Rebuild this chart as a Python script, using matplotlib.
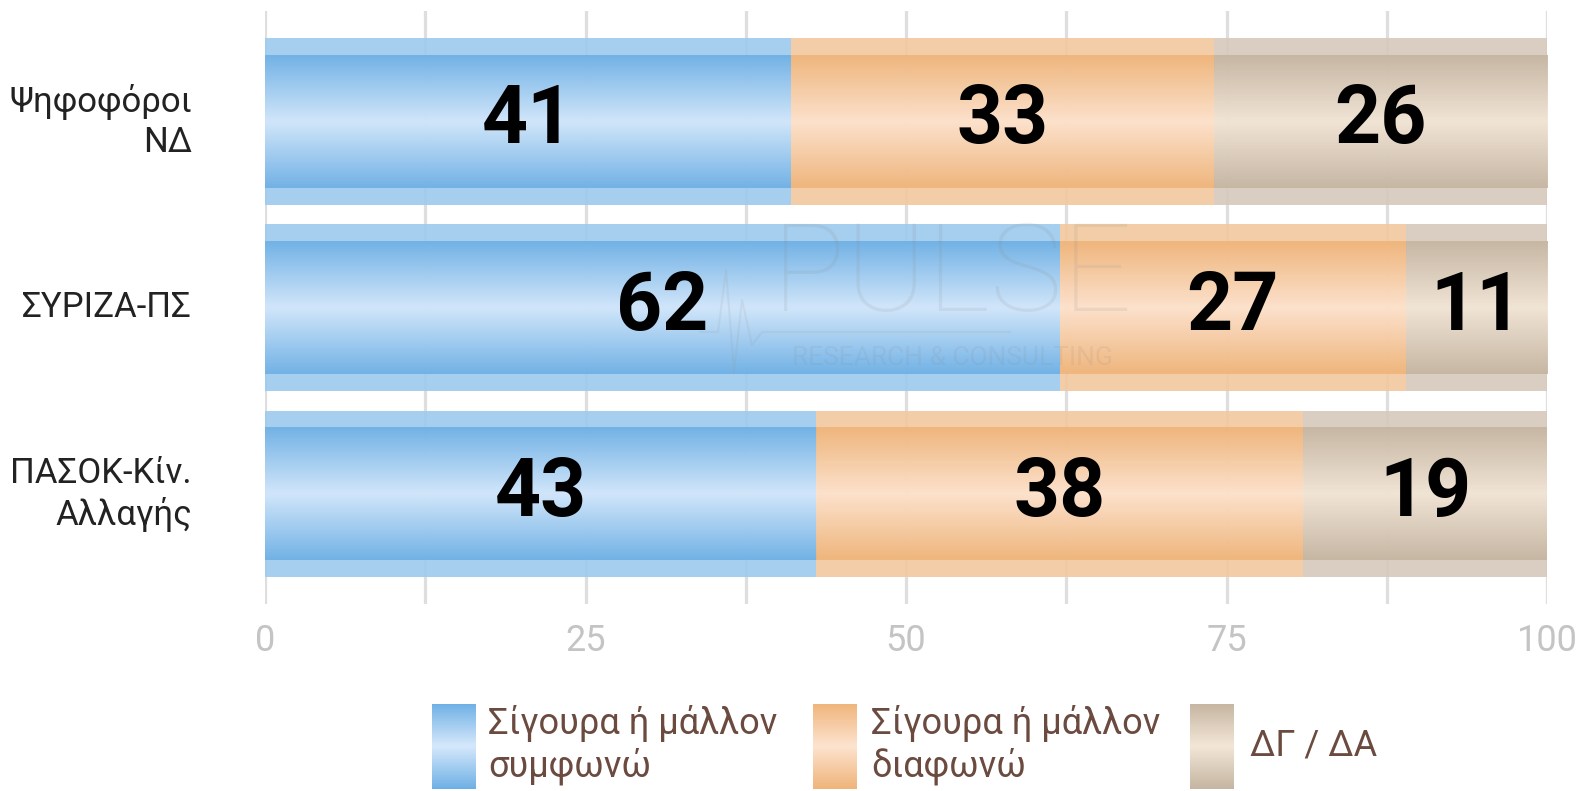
import numpy as np
import matplotlib
matplotlib.use("Agg")
import matplotlib.pyplot as plt
from matplotlib.colors import LinearSegmentedColormap
from matplotlib.ticker import MultipleLocator

# Daten
categories = ["Ψηφοφόροι\nΝΔ", "ΣΥΡΙΖΑ-ΠΣ", "ΠΑΣΟΚ-Κίν.\nΑλλαγής"]
series_names = ["Σίγουρα ή μάλλον\nσυμφωνώ", "Σίγουρα ή μάλλον\nδιαφωνώ", "ΔΓ / ΔΑ"]
agree = [41, 62, 43]
disagree = [33, 27, 38]
dont_know = [26, 11, 19]
x_ticks = [0, 25, 50, 75, 100]

# Farben: (Rand, dunkle Kante, helle Mitte)
colors = [
    ("#9ecaee", "#6eb0e5", "#d5e8fb"),
    ("#f2c9a0", "#efb47a", "#fde3cf"),
    ("#d6cabc", "#c5b5a1", "#f3e6d7"),
]

plt.rcParams['font.family'] = ['Liberation Sans Narrow', 'Roboto', 'DejaVu Sans']

fig = plt.figure(figsize=(15.81, 7.91), dpi=100)
ax = fig.add_axes([265 / 1581, 1 - 604 / 791, (1547 - 265) / 1581, 593 / 791])

y = np.arange(len(categories))
bar_h = 0.893
band = 0.091


def gradient_cmap(edge, center):
    return LinearSegmentedColormap.from_list("g", [center, edge])


grad = np.abs(np.linspace(-1, 1, 200)).reshape(-1, 1)

left = np.zeros(len(categories))
for values, (band_col, edge_col, center_col) in zip([agree, disagree, dont_know], colors):
    bars = ax.barh(y, values, left=left, height=bar_h, color=band_col, alpha=0.92,
                   linewidth=0, zorder=2)
    cmap = gradient_cmap(edge_col, center_col)
    for rect, v in zip(bars, values):
        x0 = rect.get_x()
        w = rect.get_width()
        y0 = rect.get_y()
        h = rect.get_height()
        ax.imshow(grad, cmap=cmap, aspect='auto', alpha=0.92, zorder=3,
                  extent=[x0, x0 + w, y0 + h - band, y0 + band], interpolation='bilinear')
        ax.text(x0 + w / 2, rect.get_y() + h / 2, str(v), ha='center', va='center',
                fontsize=58, fontweight='bold', color='black', zorder=5)
    left = left + np.array(values)

ax.set_xlim(0, 100)
ax.set_ylim(2.59, -0.592)
ax.set_yticks([])
ax.set_xticks(x_ticks)
ax.xaxis.set_minor_locator(MultipleLocator(12.5))
ax.grid(True, axis='x', which='both', color='#dedede', linewidth=2.3, zorder=0)
ax.set_axisbelow(True)
ax.tick_params(axis='x', which='both', length=0, labelsize=26, labelcolor='#c4c4c4', pad=14)
for s in ax.spines.values():
    s.set_visible(False)

# Kategorien
for yi, cat in zip(y, categories):
    ax.text(-5.7, yi, cat, ha='right', va='center', fontsize=25, color='#222222',
            linespacing=1.25)

# Wasserzeichen
fig.text(952 / 1581, 1 - 277 / 791, "PULSE", ha='center', va='center', fontsize=88,
         color='#888888', alpha=0.13, family=['Roboto', 'DejaVu Sans'], fontweight='light')
fig.text(952 / 1581, 1 - 358 / 791, "RESEARCH & CONSULTING", ha='center', va='center',
         fontsize=19, color='#888888', alpha=0.13, family=['Roboto', 'DejaVu Sans'])
wx = np.array([700, 718, 726, 734, 742, 752, 762, 1010]) / 1581
wy = 1 - np.array([332, 332, 270, 372, 300, 345, 332, 332]) / 791
fig.add_artist(plt.Line2D(wx, wy, color='#999999', alpha=0.15, linewidth=1.5))

# Legende
swatch_x = [432, 813, 1190]
text_x = [488, 871, 1250]
for (band_col, edge_col, center_col), sx, tx, name in zip(colors, swatch_x, text_x, series_names):
    sax = fig.add_axes([sx / 1581, 1 - 789 / 791, 44 / 1581, 85 / 791])
    sax.imshow(grad, cmap=gradient_cmap(edge_col, center_col), aspect='auto',
               interpolation='bilinear')
    sax.axis('off')
    fig.text(tx / 1581, 1 - 745 / 791, name, ha='left', va='center', fontsize=26,
             color='#6b4a3f', linespacing=1.2)

fig.savefig("out.png", dpi=100)
